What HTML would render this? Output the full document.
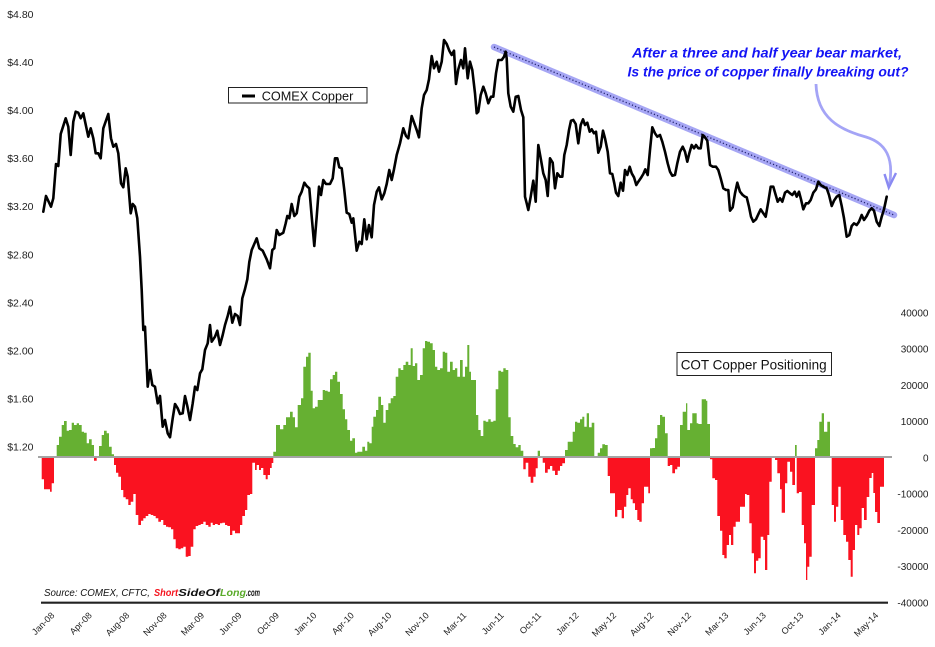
<!DOCTYPE html>
<html><head><meta charset="utf-8"><style>
html,body{margin:0;padding:0;background:#fff;}
svg{display:block;}
text{font-family:"Liberation Sans",sans-serif;}
</style></head><body>
<svg width="935" height="647" viewBox="0 0 935 647" xmlns="http://www.w3.org/2000/svg">
<rect width="935" height="647" fill="#fff"/>
<defs>
<clipPath id="up"><rect x="0" y="0" width="935" height="457"/></clipPath>
<clipPath id="dn"><rect x="0" y="457" width="935" height="190"/></clipPath>
<path id="bars" d="M41.7 457 V479.3 H44 V489.3 H50 V491.7 H51.7 V483.3 H54 V457 H56.7 V445 H59 V436.7 H61.7 V425 H64 V421 H66.7 V430.7 H69 V430 H71.7 V422.7 H74 V425 H76.7 V423.3 H79 V425 H81.7 V431.7 H84 V432.7 H86.7 V443.3 H89 V439.3 H91.7 V445 H94 V460.7 H96.7 V457 H99 V446 H101.7 V435 H104 V430.7 H106.7 V433.3 H109 V446.7 H111.7 V454.3 H114 V465 H116 V472.7 H118.3 V476.7 H121 V490 H123.3 V497.3 H125.7 V499.3 H128.3 V505 H130.7 V501.7 H133.3 V494 H135.7 V515 H138.3 V525 H141 V520.7 H143.3 V518.3 H145.7 V516 H148.3 V514 H150.7 V515 H153.3 V516 H155.7 V518.3 H158.3 V521.7 H161 V520 H163.3 V525 H166 V526.7 H168.3 V527.3 H171 V529.3 H173.3 V539.3 H175.7 V548.3 H178.3 V549.3 H180.7 V548.3 H183.3 V546.7 H185.7 V556.7 H188.3 V556 H190.7 V546.7 H193.3 V529.3 H195.7 V526 H198.3 V525 H200.7 V524 H203.3 V521.7 H205.7 V525 H208.3 V526.7 H210.7 V522.7 H212.7 V525 H215 V524 H217.7 V525 H220 V523.3 H222.3 V522.7 H225 V525 H227.3 V526 H230 V535 H232.3 V530.7 H235 V533.3 H240 V525 H242.3 V516 H245 V510 H247.3 V495 H250 V494 H252.3 V462.7 H255 V470 H256.7 V465 H259 V470 H261 V468 H263.3 V475 H265.7 V479.3 H267.7 V475 H270 V468 H271.7 V463 H273.3 V451.7 H276 V425 H280 V429.3 H283.3 V425 H286 V417.3 H290 V411.7 H292.7 V417.3 H295 V427.3 H297.7 V405 H301 V398.3 H303.3 V366.7 H306 V356.7 H308.3 V352.7 H310.7 V390.7 H312.7 V408.3 H315 V406.7 H317.7 V400 H322.7 V390 H325 V390.7 H327.7 V391.7 H330 V379.3 H332.7 V375 H335 V371.7 H337.3 V381.7 H340 V394 H342.7 V409.3 H345 V419.3 H347.3 V430 H350 V440.7 H352.3 V438.3 H355 V452.7 H357.3 V451.7 H362.3 V446.7 H365 V450.7 H367.3 V441.7 H369.3 V443.3 H371.7 V426.7 H373.3 V416.7 H376 V410 H378.3 V396.7 H381 V405 H383.3 V422.7 H385.7 V410 H388.3 V403.3 H390.7 V398.3 H393.3 V396 H395.7 V376.7 H398.3 V368.3 H400.7 V370 H403.3 V365 H405.7 V361.7 H408.3 V365 H410.7 V348.3 H412.7 V366 H415 V363.3 H417.3 V380 H420 V375 H422.7 V348.3 H425 V341 H427.3 V341.7 H430 V343.3 H432.7 V350 H435 V366.7 H437.3 V370 H440 V368.3 H442.7 V351.7 H445 V352.7 H447.3 V371.7 H450 V361.7 H452.7 V370 H455 V368.3 H457.3 V376.7 H460 V360 H462.7 V376.7 H465 V366.7 H467.3 V345 H469.3 V371.7 H471 V380 H476 V415 H478.3 V430 H480.7 V436 H483.3 V420.7 H485.7 V421.7 H488.3 V419.3 H490.7 V421.7 H493.3 V420.7 H495.7 V389.3 H498.3 V370.7 H501 V371.7 H503.3 V368.3 H505.7 V370 H508.3 V417.3 H510.7 V436 H513.3 V444 H515.7 V447.3 H518.3 V445 H520.7 V450.7 H523.3 V469.3 H525.7 V462.7 H528.3 V476.7 H530.7 V482.7 H533.3 V476.7 H535.7 V468.3 H537.7 V450.7 H540 V457 H542.7 V462.7 H545 V472.7 H547.7 V469.3 H550 V466 H552.3 V470.7 H555 V475 H557.7 V470.7 H560 V466 H562.3 V463.3 H565 V450 H567.7 V441.7 H572.7 V431.7 H575 V421.7 H577.3 V422.7 H580 V419.3 H582.3 V416.7 H584.3 V426.7 H586.7 V413.3 H589 V427.3 H591.7 V422.7 H594.3 V457 H597.7 V452.7 H600 V448.3 H602.3 V444.3 H605 V445 H607.7 V476 H610 V493.3 H615 V516.7 H617.3 V510 H621.7 V518.3 H624 V506.7 H626.3 V495 H628.3 V488.3 H630.7 V499.3 H632.7 V503.3 H635 V510 H637.3 V520 H639.3 V521.7 H641.7 V503.3 H644 V486.7 H648.3 V493.3 H650 V448.3 H652.3 V448 H655 V438.3 H657.3 V425 H660 V415 H662.3 V416.7 H665 V433.3 H667.7 V466 H670 V465 H672.3 V473.3 H675 V469.3 H677.3 V466.7 H680 V425 H682.7 V411.7 H686 V403.3 H687.3 V430 H690 V423.3 H692.3 V413.3 H696.7 V423.3 H698.3 V424 H701.7 V399.3 H706 V400.7 H707.3 V424 H710 V459.3 H712.3 V478.3 H715 V480 H717.3 V516 H720 V530.7 H722.3 V555 H724.3 V558.3 H726.7 V545 H729 V535 H731 V545 H733.3 V526.7 H735.7 V521.7 H740 V506.7 H745 V494 H746.7 V495 H749.3 V523.3 H751.7 V553.3 H754 V573.3 H756 V560.7 H758.3 V558.3 H760.7 V536.7 H763.3 V540 H765 V570 H767.3 V535 H769.3 V481.7 H771.7 V457 H775 V460 H777.3 V473.3 H780 V489.3 H781.7 V512.7 H785 V483.3 H787.3 V461.7 H790 V471.7 H792.3 V485 H795 V445 H796.7 V493.3 H799 V492 H801.7 V525 H804 V543.3 H806 V580 H807.3 V566.7 H809.3 V556.7 H811.7 V505 H815 V448.3 H817.3 V440 H819.3 V421.7 H821.7 V413.3 H824 V431.7 H827.3 V421.7 H830 V457 H831.7 V505 H834 V521.7 H836 V506.7 H838.3 V486.7 H840.7 V520 H843.3 V535 H846 V541.7 H848.3 V560 H850.7 V576.7 H852.7 V550 H855 V525 H857.3 V535 H859.3 V528.3 H861.7 V508 H864 V520 H866.7 V497 H869.3 V478 H871.7 V473 H873.3 V493 H875 V512 H877.3 V523 H880 V486.7 H884 V457 Z"/>
</defs>

<!-- COT bars -->
<use href="#bars" fill="#66b032" clip-path="url(#up)"/>
<use href="#bars" fill="#fa1220" clip-path="url(#dn)"/>
<line x1="38" y1="457" x2="892" y2="457" stroke="#a4a4a4" stroke-width="2"/>

<!-- x axis -->
<line x1="41" y1="602.7" x2="888" y2="602.7" stroke="#222" stroke-width="2.2"/>

<!-- trend line -->
<line x1="494" y1="47" x2="894" y2="215" stroke="#a6a6f4" stroke-width="6.5" stroke-linecap="round"/>
<line x1="494" y1="47" x2="894" y2="215" stroke="#23236e" stroke-width="1.3" stroke-dasharray="1.2 2.2"/>

<!-- price line -->
<polyline fill="none" stroke="#000" stroke-width="2.6" stroke-linejoin="round" stroke-linecap="round" points="43.3,211.7 46,196 51,206.7 53.3,198.3 56,164 58.3,166 60.7,134 65.7,118.3 68.3,126.7 70.7,155 73.3,121.7 75.7,111.7 78.3,112.7 80.7,118.3 83.3,113.3 88.3,136.7 90.7,128.3 93.3,138.3 95.7,153.3 98.3,153.3 100.7,158.3 103.3,128.3 108.3,114 111,138.3 113.3,146.7 116,144 118.3,153.3 121,183.3 123.3,187.3 125.7,168.3 127.7,176.7 130.7,213.3 132.7,204 135,206.7 137.3,218.3 140,256.7 141.7,290 143.3,330 145,326.7 147.7,386.7 150,370 152.3,385 155,386.7 157.7,403.3 160,396 162.7,426.7 165,420 167.7,433.3 170,437.3 172.7,418.3 175,404 177.7,408.3 180,414 182.7,413.3 185,396 187.3,406 190,420 192.7,403.3 195,386.7 197.3,390 200,373.3 202.3,369.3 205,350 207.7,343.3 210,325 211.7,341.7 215,336.7 217.3,330.7 220,345 222.7,335 225,325 227.7,316 230,306.7 232.3,322.7 235,314 237.7,316 240,325 242.3,298.3 245,289 247.3,279.3 249.3,262 251.7,250 256.7,238.3 259.3,248.3 262.7,250.7 266.7,259.3 270,268.3 272.3,250 274.3,248.3 276.7,230 279.3,235 283.3,232.7 285.7,223.3 287.3,216 289.3,218.3 291.7,204 294.3,216 296.7,213.3 299.3,196.7 301.7,191.7 304.3,182.7 306.7,186 309.3,188.3 311.7,216.7 314.3,246 316.7,216.7 319,186.7 321,195 323.3,180 326,184 330,184 332.7,178.3 335,158.3 337.3,158.3 339.3,167.3 341.7,168.3 344.3,190 346.7,212.7 349.3,214 351.7,222.7 353.3,218.3 356.7,250.7 359.3,241.7 361.7,244 364.3,219.3 366.7,239.3 369,225 371.7,237.3 374,205 376.7,191.7 379,187.3 381.7,199.3 384.3,193.3 386.7,184 389.3,170 391.7,180 394,169.3 396.7,155 400,143.3 403.3,128.3 406,136 408.3,138.3 411.7,116 414.3,123.3 416.7,130 419,137.3 421.7,108.3 424,95 426.7,90 429,79.3 431.7,56 434,68.3 436.7,61.7 439,71.7 441.7,61.7 444,40 446.7,44 449.3,50.7 451.7,55 454,50.7 456,84 458.3,69.3 461,60 463.3,68.3 465,48.3 467.7,78.3 470,61.7 472.3,70 475,93.3 476.7,113.3 478.3,111.7 480.7,95 483.3,86.7 485.7,93.3 488.3,103.3 491,96.7 493.3,96.7 496,73.3 498.3,60 501.7,60 504,56.7 505.7,51.7 506.7,58.3 508.3,93.3 510.7,106.7 513.3,111.7 515.7,96.7 518.3,96 521,110 523.3,117.3 525,196.7 526.7,203.3 528.3,210 530.7,196.7 533.3,180.7 535.7,201.7 538.3,145 541,160 543.3,173.3 545.7,180 547.7,196 550,158.3 552.7,162.7 555,188.3 557.3,173.3 560,176.7 562.3,176.7 564.3,155 566.7,145 569,130 571,120.7 573.3,120 575.7,124 578.3,143.3 580.7,125 583,119.3 585,125 587.3,122.7 589.7,131.7 591.7,129.3 594,133.3 596,131.7 598.3,152.7 600.7,146.7 603,130.7 605,138.3 607.7,151.7 610,173.3 612.3,174 614.3,183.3 616,192.7 618.3,196 620.7,182.7 623,190.7 625,170 627.3,175 629.7,166.7 631.7,173.3 634,177.3 636.3,185 638.3,181.7 640.7,178.3 643.3,174 645.3,169.3 647.7,175 650,150 652.3,127.3 655,133.3 657.3,136.7 660,135 662.3,141.7 665,151.7 667.7,163.3 670,171.7 672.3,175.7 675,175 677.3,163.3 680,151.7 682.7,146.7 685,151.7 687.3,161.7 689.3,153.3 691.7,145 694,148.3 696,145 698.3,148.3 700.7,148.3 702.7,135 705,137.3 707.3,140.7 710,165 712.7,166.7 716,166.7 718.3,170 720.7,178.3 723.3,188.3 726,190 728.3,190 730,210.7 732.7,207.3 735,193.3 737.3,182.7 740,191.7 742.7,195 745,196.7 746.7,197.3 749,206.7 751,216.7 753.3,221.7 756,219.3 758.3,214.3 760.7,209.3 763.3,213.3 765.7,216.7 768.3,201.7 770.7,186.7 773.3,186.7 775.7,195 777.7,201.7 780,198.3 782.3,201.7 785,192.7 787.3,191 790,193.3 792.3,195 794.7,191.7 796.7,196.7 799,191.7 801,199.3 803.3,209.3 806,203.3 808.3,203.3 810.7,200 813.3,192.7 816,189.3 818.3,181.7 820.7,185 823.3,186.7 826.7,188.3 829,195 831.7,206 834,200.7 836.7,196.7 839.3,195 841.7,206 844,218.3 846.7,236.7 849.3,235 851.7,226 854,223.3 856.7,225 859,221.7 861.7,215 864,220 866.7,216 869.3,210.7 871.7,208.3 874,210.7 876.7,221.7 879.3,226 881.7,216.7 884,209.3 886.7,196.7"/>

<!-- curved arrow -->
<path d="M816 84 C817 118, 840 130, 866 137 C886 143, 894 158, 889.5 184" fill="none" stroke="#a4a4f6" stroke-width="2.8"/>
<path d="M884.5 174 L888.8 187.5 L896 173" fill="none" stroke="#8a8af2" stroke-width="2.4" stroke-linejoin="miter"/>

<!-- annotation -->
<text x="632" y="57.3" font-size="13.5" font-weight="bold" font-style="italic" fill="#1414f5" textLength="270" lengthAdjust="spacingAndGlyphs">After a three and half year bear market,</text>
<text x="627.5" y="76.7" font-size="13.5" font-weight="bold" font-style="italic" fill="#1414f5" textLength="281" lengthAdjust="spacingAndGlyphs">Is the price of copper finally breaking out?</text>

<!-- legend COMEX -->
<rect x="228.5" y="87.5" width="138.5" height="15.5" fill="#fff" stroke="#222" stroke-width="1"/>
<line x1="242" y1="96" x2="255" y2="96" stroke="#000" stroke-width="3"/>
<text x="261.7" y="100.7" font-size="13" fill="#111" textLength="91.6" lengthAdjust="spacingAndGlyphs">COMEX Copper</text>

<!-- legend COT -->
<rect x="677" y="352.5" width="154.5" height="23" fill="#fff" stroke="#222" stroke-width="1"/>
<text x="680.7" y="369.3" font-size="14" fill="#111" textLength="146" lengthAdjust="spacingAndGlyphs">COT Copper Positioning</text>

<!-- left axis labels -->
<g font-size="10.5" fill="#222" text-anchor="end">
<text x="33.5" y="17.8">$4.80</text>
<text x="33.5" y="65.9">$4.40</text>
<text x="33.5" y="114">$4.00</text>
<text x="33.5" y="162.1">$3.60</text>
<text x="33.5" y="210.2">$3.20</text>
<text x="33.5" y="258.3">$2.80</text>
<text x="33.5" y="306.4">$2.40</text>
<text x="33.5" y="354.5">$2.00</text>
<text x="33.5" y="402.6">$1.60</text>
<text x="33.5" y="450.7">$1.20</text>
</g>

<!-- right axis labels -->
<g font-size="10" fill="#222" text-anchor="end">
<text x="928.5" y="316.5">40000</text>
<text x="928.5" y="352.7">30000</text>
<text x="928.5" y="389">20000</text>
<text x="928.5" y="425.2">10000</text>
<text x="928.5" y="461.5">0</text>
<text x="928.5" y="497.7">-10000</text>
<text x="928.5" y="534">-20000</text>
<text x="928.5" y="570.2">-30000</text>
<text x="928.5" y="606.5">-40000</text>
</g>

<!-- x labels -->
<g font-size="9" fill="#222" text-anchor="end">
<text transform="rotate(-45 55 616)" x="55" y="616">Jan-08</text>
<text transform="rotate(-45 92.45 616)" x="92.45" y="616">Apr-08</text>
<text transform="rotate(-45 129.9 616)" x="129.9" y="616">Aug-08</text>
<text transform="rotate(-45 167.35 616)" x="167.35" y="616">Nov-08</text>
<text transform="rotate(-45 204.8 616)" x="204.8" y="616">Mar-09</text>
<text transform="rotate(-45 242.25 616)" x="242.25" y="616">Jun-09</text>
<text transform="rotate(-45 279.7 616)" x="279.7" y="616">Oct-09</text>
<text transform="rotate(-45 317.15 616)" x="317.15" y="616">Jan-10</text>
<text transform="rotate(-45 354.6 616)" x="354.6" y="616">Apr-10</text>
<text transform="rotate(-45 392.05 616)" x="392.05" y="616">Aug-10</text>
<text transform="rotate(-45 429.5 616)" x="429.5" y="616">Nov-10</text>
<text transform="rotate(-45 466.95 616)" x="466.95" y="616">Mar-11</text>
<text transform="rotate(-45 504.4 616)" x="504.4" y="616">Jun-11</text>
<text transform="rotate(-45 541.85 616)" x="541.85" y="616">Oct-11</text>
<text transform="rotate(-45 579.3 616)" x="579.3" y="616">Jan-12</text>
<text transform="rotate(-45 616.75 616)" x="616.75" y="616">May-12</text>
<text transform="rotate(-45 654.2 616)" x="654.2" y="616">Aug-12</text>
<text transform="rotate(-45 691.65 616)" x="691.65" y="616">Nov-12</text>
<text transform="rotate(-45 729.1 616)" x="729.1" y="616">Mar-13</text>
<text transform="rotate(-45 766.55 616)" x="766.55" y="616">Jun-13</text>
<text transform="rotate(-45 804 616)" x="804" y="616">Oct-13</text>
<text transform="rotate(-45 841.45 616)" x="841.45" y="616">Jan-14</text>
<text transform="rotate(-45 878.9 616)" x="878.9" y="616">May-14</text>
</g>

<!-- source -->
<g font-size="10" font-style="italic">
<text x="44" y="596" fill="#111" textLength="106" lengthAdjust="spacingAndGlyphs">Source: COMEX, CFTC,</text>
<text x="154" y="596" fill="#f5141e" font-weight="bold" textLength="24" lengthAdjust="spacingAndGlyphs">Short</text>
<text x="178.3" y="596" fill="#111" font-weight="bold" textLength="41.5" lengthAdjust="spacingAndGlyphs">SideOf</text>
<text x="220" y="596" fill="#5aab2a" font-weight="bold" textLength="26" lengthAdjust="spacingAndGlyphs">Long</text>
<text x="246" y="596" fill="#111" font-weight="bold" textLength="14" lengthAdjust="spacingAndGlyphs">.com</text>
</g>
</svg>
</body></html>
